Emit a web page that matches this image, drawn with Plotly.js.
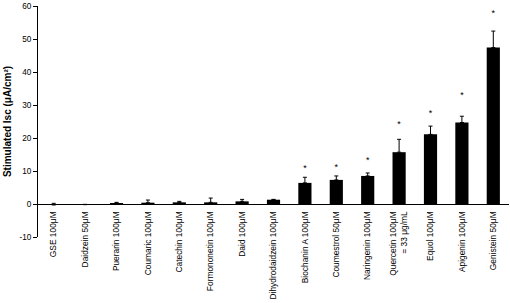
<!DOCTYPE html>
<html>
<head>
<meta charset="utf-8">
<script src="https://cdn.plot.ly/plotly-3.0.1.min.js"></script>
<style>html,body{margin:0;padding:0;background:#fff;}#chart{width:510px;height:303px;}</style>
</head>
<body>
<div id="chart"></div>
<script>
const categories = ["GSE 100μM","Daidzein 50μM","Puerarin 100μM","Coumaric 100μM","Catechin 100μM","Formononetin 100μM","Daid 100μM","Dihydrodaidzein 100μM","Biochanin A 100μM","Coumestrol 50μM","Naringenin 100μM","Quercetin 100μM<br>= 33 μg/mL","Equol 100μM","Apigenin 100μM","Genistein 50μM"];
const values = [-0.3, -0.2, 0.3, 0.4, 0.5, 0.5, 0.8, 1.3, 6.4, 7.3, 8.5, 15.7, 21.1, 24.7, 47.4];
const errors = [0.5, 0.1, 0.2, 0.8, 0.3, 1.3, 0.6, 0.1, 1.7, 1.2, 0.9, 3.9, 2.5, 1.9, 5.0];
const stars = [null, null, null, null, null, null, null, null, 10.6, 11.1, 13.1, 24.1, 27.4, 32.9, 57.6];
const yTicks = [-10, 0, 10, 20, 30, 40, 50, 60];

const font = "Liberation Sans, Arial, sans-serif";
const data = [
  {
    type: "bar", x: categories, y: values,
    marker: {color: "#000000", line: {color: "#000000", width: 0}},
    error_y: {type: "data", array: errors, arrayminus: errors.map(() => 0), symmetric: false, color: "#000000", thickness: 1, width: 2},
    hoverinfo: "skip"
  },
  {
    type: "scatter", mode: "text", x: categories, y: stars,
    text: stars.map(s => s === null ? "" : "*"),
    textposition: "middle center",
    textfont: {family: font, size: 9, color: "#000000"},
    hoverinfo: "skip"
  }
];
const layout = {
  width: 510, height: 303,
  margin: {l: 38, r: 1, t: 6, b: 66},
  paper_bgcolor: "#ffffff", plot_bgcolor: "#ffffff",
  showlegend: false, bargap: 0.58,
  font: {family: font, size: 8, color: "#000000"},
  xaxis: {
    type: "category", range: [-0.5, 14.5],
    anchor: "free", position: 10/70,
    showline: true, linecolor: "#000000", linewidth: 1,
    ticks: "", tickangle: -90, showgrid: false, zeroline: false,
    ticklabelstandoff: 3, ticklabeloverflow: "allow",
    tickfont: {family: font, size: 8.4, color: "#000000"},
    automargin: false
  },
  yaxis: {
    range: [-10, 60], tickvals: yTicks, ticktext: yTicks.map(String),
    showline: true, linecolor: "#000000", linewidth: 1,
    ticks: "outside", ticklen: 4, tickcolor: "#000000",
    showgrid: false, zeroline: false, ticklabeloverflow: "allow",
    tickfont: {family: font, size: 8.2, color: "#000000"},
    title: {text: "<b>Stimulated Isc (μA/cm²)</b>", font: {family: font, size: 10, color: "#000000"}, standoff: 6},
    automargin: false
  }
};
Plotly.newPlot("chart", data, layout, {staticPlot: true, displayModeBar: false});
</script>
</body>
</html>
